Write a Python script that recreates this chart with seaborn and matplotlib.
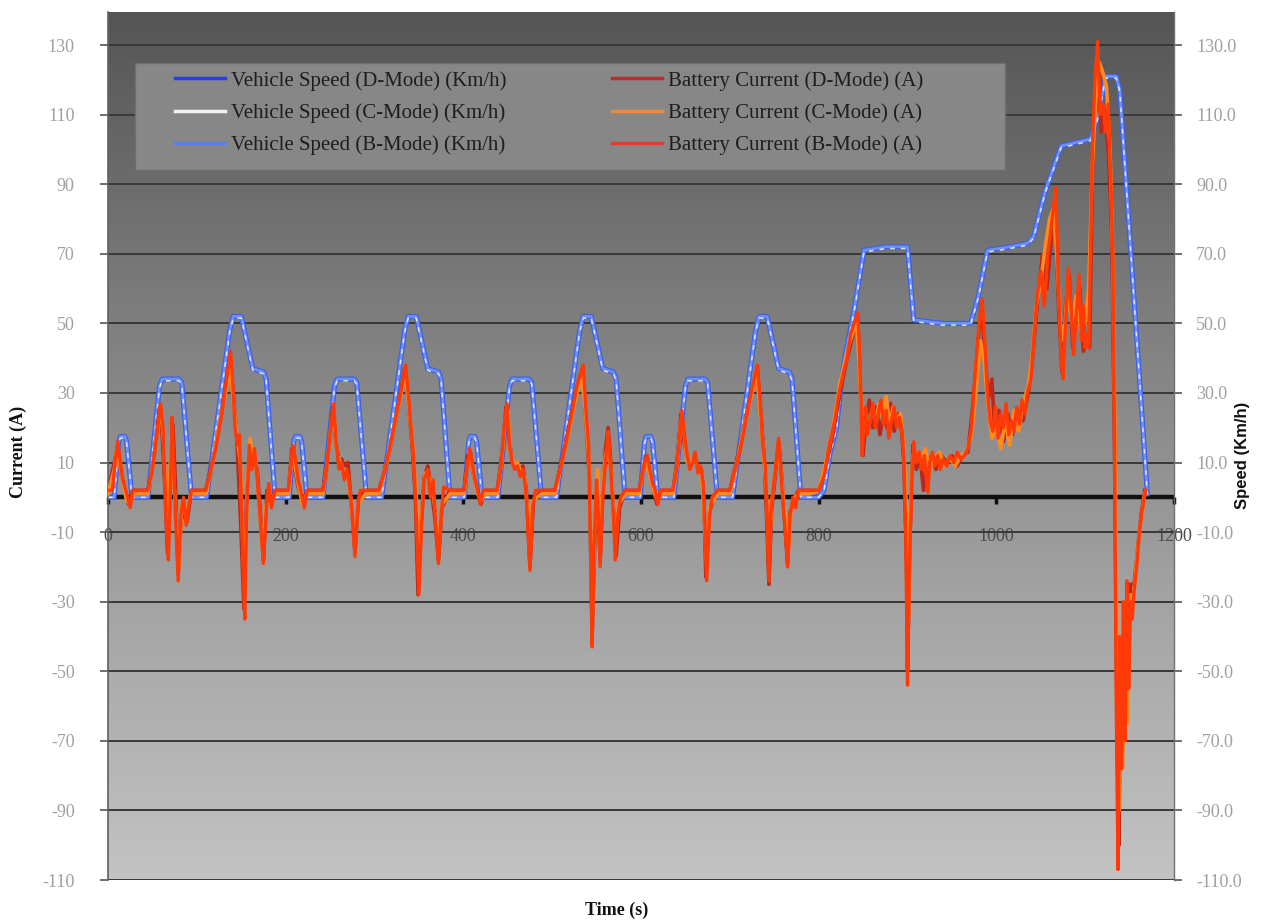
import numpy as np
import matplotlib
matplotlib.use("Agg")
import matplotlib.pyplot as plt
import seaborn as sns
from matplotlib.colors import LinearSegmentedColormap
from matplotlib.lines import Line2D
from matplotlib.patches import Rectangle

plt.rcParams["axes.unicode_minus"] = False

# ---------------- data ----------------
speed_t = [0, 7, 12, 14, 19, 21, 27, 45, 58, 61, 80, 83, 94, 111, 137, 141, 150, 163, 175, 178, 188,
           204, 209, 211, 216, 218, 224, 242, 255, 258, 277, 280, 291, 308, 334, 338, 347, 360, 372, 375, 385,
           401, 406, 408, 413, 415, 421, 439, 452, 455, 474, 477, 488, 505, 531, 535, 544, 557, 569, 572, 582,
           599, 604, 606, 611, 613, 619, 637, 650, 653, 672, 675, 686, 703, 729, 733, 742, 755, 767, 770, 780,
           800, 806, 813, 820, 828, 840, 851, 875, 900, 907, 940, 971, 980, 990, 1015, 1035, 1042, 1055,
           1073, 1090, 1106, 1115, 1123, 1135, 1139, 1170]
speed_D = [0, 0, 16, 17.5, 17.5, 16, 0, 0, 32, 34, 34, 33, 0, 0, 48, 52, 52, 37, 36, 34, 0,
           0, 16, 17.5, 17.5, 16, 0, 0, 32, 34, 34, 33, 0, 0, 48, 52, 52, 37, 36, 34, 0,
           0, 16, 17.5, 17.5, 16, 0, 0, 32, 34, 34, 33, 0, 0, 48, 52, 52, 37, 36, 34, 0,
           0, 16, 17.5, 17.5, 16, 0, 0, 32, 34, 34, 33, 0, 0, 48, 52, 52, 37, 36, 34, 0,
           0, 2, 13, 20, 38, 54, 71, 72, 72, 51, 50, 50, 58, 71, 72, 73, 75, 88,
           101, 102, 103, 110, 121, 121, 117, 1]
speed_C = [0, 0, 15.5, 17, 17, 15.5, 0, 0, 31.5, 33.5, 33.5, 32.5, 0, 0, 47.5, 51.5, 51.5, 36.5, 35.5, 33.5, 0,
           0, 15.5, 17, 17, 15.5, 0, 0, 31.5, 33.5, 33.5, 32.5, 0, 0, 47.5, 51.5, 51.5, 36.5, 35.5, 33.5, 0,
           0, 15.5, 17, 17, 15.5, 0, 0, 31.5, 33.5, 33.5, 32.5, 0, 0, 47.5, 51.5, 51.5, 36.5, 35.5, 33.5, 0,
           0, 15.5, 17, 17, 15.5, 0, 0, 31.5, 33.5, 33.5, 32.5, 0, 0, 47.5, 51.5, 51.5, 36.5, 35.5, 33.5, 0,
           0, 2, 12.5, 19.5, 37.5, 53.5, 70.5, 71.5, 71.5, 50.5, 49.5, 49.5, 57.5, 70.5, 71.5, 72.5, 74.5, 87.5,
           100.5, 101.5, 102.5, 109.5, 120.5, 120.5, 116.5, 1]
speed_B = speed_D

current_B = [
    (0, 2), (5, 2), (8, 10), (11, 16), (13, 12), (16, 6), (19, 3), (22, 0), (25, -3), (28, 2), (45, 2),
    (50, 8), (55, 18), (59, 27), (62, 20), (64, 5), (66, -10), (68, -18), (70, 0), (72, 23), (74, 10),
    (76, -5), (79, -24), (82, -5), (85, 0), (88, -8), (91, -2), (94, 2), (110, 2), (116, 8), (122, 15),
    (128, 24), (133, 33), (138, 42), (140, 35), (143, 20), (146, 15), (148, 18), (150, 0), (152, -20),
    (154, -35), (156, -5), (159, 15), (162, 8), (165, 14), (168, 5), (171, -5), (175, -19), (178, -4),
    (181, 4), (184, -3), (188, 2),
    (203, 2), (206, 9), (208, 15), (211, 11), (214, 5), (217, 2), (221, -3), (224, 2), (242, 2), (246, 8),
    (250, 18), (254, 27), (257, 15), (260, 8), (263, 10), (266, 5), (269, 8), (272, 3), (275, -5),
    (278, -17), (281, -3), (284, 2), (290, 2), (305, 2), (312, 8), (320, 18), (328, 28), (335, 38),
    (338, 30), (341, 20), (344, 12), (347, -5), (350, -28), (353, -8), (356, 5), (360, 8), (363, 0),
    (366, 5), (369, -8), (372, -19), (375, -5), (378, 3), (385, 2),
    (401, 2), (404, 8), (407, 14), (410, 10), (413, 5), (416, 2), (419, -2), (422, 2), (438, 2), (442, 8),
    (446, 20), (449, 27), (452, 15), (455, 10), (458, 8), (461, 9), (464, 6), (467, 8), (470, 3),
    (472, -5), (475, -21), (478, -3), (481, 2), (488, 2), (503, 2), (509, 8), (516, 16), (522, 24),
    (528, 32), (535, 38), (538, 25), (541, 15), (543, -10), (545, -43), (547, -15), (550, 5), (552, -5),
    (554, -20), (557, 0), (560, 10), (563, 19), (566, 8), (569, -5), (571, -18), (574, -5), (577, 0),
    (582, 2),
    (598, 2), (601, 6), (604, 10), (607, 12), (610, 8), (613, 4), (616, 2), (619, -2), (622, 2), (636, 2),
    (640, 8), (643, 16), (646, 25), (649, 18), (652, 12), (655, 8), (658, 10), (661, 13), (664, 7),
    (667, 9), (670, 4), (672, -8), (674, -24), (677, -6), (680, 0), (686, 2), (700, 2), (706, 8),
    (712, 14), (718, 22), (724, 30), (731, 38), (734, 28), (737, 15), (740, 9), (742, -5), (744, -24),
    (746, -5), (749, 3), (752, 10), (755, 17), (758, 5), (761, -5), (763, -12), (765, -20), (768, -5),
    (771, 0), (774, -3), (777, 2),
    (790, 2), (800, 2), (806, 6), (812, 15), (818, 22), (823, 30), (828, 36), (832, 40), (836, 47),
    (840, 50), (844, 53), (846, 42), (848, 25), (849, 12), (851, 20), (853, 26), (855, 18), (858, 22),
    (861, 27), (864, 20), (867, 24), (870, 28), (873, 21), (876, 25), (879, 17), (882, 22), (885, 26),
    (888, 20), (891, 23), (894, 19), (896, 11), (898, -10), (900, -54), (902, -20), (905, 5), (907, 16),
    (910, 10), (913, 13), (916, 8), (919, 12), (921, 6), (923, 1.5), (925, 10), (928, 13), (931, 9),
    (934, 12), (937, 8), (940, 11), (944, 9), (948, 12), (952, 10), (956, 13), (960, 11), (964, 12),
    (968, 14), (972, 20), (976, 35), (980, 48), (984, 57), (987, 45), (990, 30), (993, 22), (996, 19),
    (999, 26), (1002, 17), (1005, 24), (1008, 20), (1011, 27), (1014, 18), (1017, 22), (1020, 19),
    (1023, 26), (1026, 21), (1029, 28), (1032, 24), (1035, 30), (1039, 34), (1042, 45), (1046, 58),
    (1050, 65), (1054, 55), (1058, 70), (1062, 78), (1065, 85), (1067, 89), (1070, 60), (1073, 40),
    (1075, 34), (1078, 50), (1081, 66), (1084, 55), (1087, 41), (1090, 52), (1093, 64), (1096, 45),
    (1098, 55), (1100, 43), (1102, 47), (1104, 43), (1106, 70), (1108, 99), (1111, 120), (1114, 131),
    (1117, 110), (1120, 113), (1123, 105), (1126, 113), (1129, 90), (1131, 70), (1133, 20), (1135, -60),
    (1137, -107), (1139, -40), (1141, -78), (1143, -30), (1145, -70), (1147, -24), (1149, -55),
    (1151, -30), (1153, -35), (1155, -27), (1158, -20), (1161, -10), (1164, -4), (1168, 2)]

current_C = [
    (0, 1), (7, 8), (10, 14), (13, 10), (17, 4), (21, -1), (25, -2), (29, 1), (45, 1), (51, 10), (56, 20),
    (60, 25), (63, 14), (66, -6), (68, -12), (71, 18), (74, 6), (77, -8), (80, -20), (83, -2), (88, -5),
    (93, 1), (110, 1), (118, 10), (126, 22), (133, 31), (137, 38), (141, 28), (145, 18), (149, 10),
    (152, -15), (154, -28), (157, 5), (160, 17), (163, 10), (166, 12), (170, -2), (174, -15), (178, -2),
    (183, -2), (188, 1),
    (203, 1), (207, 12), (210, 10), (214, 4), (219, -2), (224, 1), (242, 1), (247, 10), (251, 20),
    (254, 24), (258, 12), (262, 10), (266, 7), (270, 6), (274, -2), (278, -14), (281, -2), (290, 1),
    (305, 1), (314, 10), (322, 20), (330, 30), (335, 35), (339, 25), (343, 15), (347, 0), (350, -22),
    (353, -5), (357, 7), (361, 6), (365, 3), (369, -5), (372, -15), (376, -2), (385, 1),
    (401, 1), (405, 10), (408, 12), (412, 6), (416, 1), (420, -1), (424, 1), (438, 1), (443, 10),
    (447, 22), (450, 25), (453, 13), (457, 9), (461, 10), (465, 7), (469, 6), (472, -3), (475, -17),
    (478, -1), (488, 1), (503, 1), (510, 9), (518, 18), (526, 28), (533, 35), (537, 26), (541, 12),
    (543, -5), (545, -35), (548, -8), (551, 8), (554, -12), (557, 3), (560, 12), (563, 15), (567, 6),
    (571, -14), (575, -2), (582, 1),
    (598, 1), (603, 9), (606, 11), (610, 6), (614, 2), (619, -1), (623, 1), (636, 1), (641, 10),
    (645, 22), (648, 20), (652, 10), (656, 10), (660, 12), (664, 8), (668, 7), (671, -4), (674, -20),
    (677, -3), (686, 1), (700, 1), (708, 10), (716, 20), (724, 29), (730, 36), (734, 25), (738, 12),
    (741, 3), (744, -18), (747, -2), (751, 8), (755, 14), (759, 3), (763, -8), (766, -16), (769, -3),
    (773, 0), (777, 1),
    (790, 1), (800, 2), (808, 10), (816, 20), (824, 33), (832, 42), (838, 47), (843, 50), (846, 36),
    (849, 18), (852, 24), (856, 20), (860, 25), (864, 22), (868, 27), (872, 23), (876, 29), (880, 21),
    (884, 26), (888, 22), (892, 24), (896, 14), (899, -5), (901, -35), (903, -5), (906, 12), (910, 13),
    (915, 10), (920, 14), (925, 8), (930, 11), (936, 13), (942, 9), (948, 11), (954, 9), (960, 12),
    (966, 13), (972, 18), (977, 30), (982, 45), (986, 40), (990, 28), (995, 17), (1000, 20), (1005, 14),
    (1010, 22), (1015, 15), (1020, 25), (1025, 19), (1030, 27), (1036, 32), (1040, 40), (1045, 55),
    (1050, 62), (1055, 72), (1060, 80), (1064, 83), (1068, 70), (1072, 50), (1076, 45), (1080, 60),
    (1085, 50), (1090, 58), (1095, 48), (1100, 50), (1104, 60), (1108, 95), (1112, 115), (1116, 125),
    (1120, 122), (1124, 118), (1128, 100), (1131, 70), (1134, 10), (1136, -50), (1138, -90), (1140, -60),
    (1142, -78), (1145, -40), (1148, -65), (1151, -28), (1154, -30), (1158, -18), (1162, -8), (1167, 1)]

current_D = [
    (0, 2), (8, 11), (11, 15), (14, 8), (18, 3), (23, -2), (28, 2), (45, 2), (52, 12), (58, 26), (61, 18),
    (64, 3), (67, -16), (70, 2), (73, 21), (76, 3), (79, -22), (83, -4), (89, -7), (94, 2), (110, 2),
    (120, 13), (129, 26), (137, 40), (141, 30), (145, 17), (149, -5), (153, -32), (156, 0), (160, 14),
    (164, 12), (168, 8), (172, -6), (175, -18), (179, 2), (184, -2), (188, 2),
    (203, 2), (207, 14), (210, 9), (214, 3), (220, -2), (224, 2), (242, 2), (248, 13), (253, 26),
    (256, 17), (260, 10), (263, 11), (266, 9), (270, 10), (274, -2), (278, -16), (282, 0), (290, 2),
    (305, 2), (316, 12), (326, 25), (334, 37), (338, 28), (342, 16), (346, 0), (349, -28), (352, -10),
    (356, 6), (360, 9), (364, 2), (368, -6), (372, -18), (376, -3), (385, 2),
    (401, 2), (405, 12), (408, 13), (411, 7), (416, 2), (420, -2), (424, 2), (438, 2), (444, 13),
    (448, 26), (451, 18), (455, 10), (459, 9), (463, 8), (467, 9), (471, 2), (475, -20), (479, -1),
    (488, 2), (503, 2), (512, 12), (521, 23), (529, 33), (534, 37), (538, 22), (542, 5), (545, -40),
    (548, -12), (551, 2), (554, -18), (557, 2), (560, 14), (563, 20), (566, 10), (570, -8), (572, -17),
    (576, -3), (582, 2),
    (598, 2), (602, 8), (606, 12), (609, 8), (613, 3), (618, -2), (622, 2), (636, 2), (641, 11),
    (645, 24), (648, 17), (652, 11), (656, 9), (660, 12), (664, 9), (668, 8), (671, -2), (673, -23),
    (677, -4), (686, 2), (700, 2), (709, 12), (718, 23), (726, 32), (731, 37), (735, 24), (739, 10),
    (742, -10), (744, -25), (747, -4), (751, 6), (755, 16), (759, 4), (762, -8), (765, -19), (768, -4),
    (772, -1), (777, 2),
    (790, 2), (800, 2), (808, 9), (816, 18), (824, 30), (832, 40), (838, 46), (844, 52), (847, 30),
    (850, 12), (853, 22), (857, 28), (861, 20), (865, 26), (869, 18), (873, 24), (877, 20), (881, 27),
    (885, 19), (889, 24), (893, 20), (896, 10), (899, -20), (900, -50), (903, -10), (906, 15), (910, 8),
    (914, 12), (918, 2), (922, 10), (927, 12), (932, 8), (938, 12), (944, 10), (950, 12), (956, 9),
    (962, 12), (968, 13), (973, 25), (978, 40), (983, 56), (987, 42), (991, 28), (995, 34), (998, 20),
    (1003, 25), (1008, 16), (1013, 24), (1018, 18), (1024, 25), (1030, 22), (1036, 30), (1040, 38),
    (1046, 55), (1052, 70), (1057, 60), (1062, 75), (1066, 86), (1070, 55), (1074, 36), (1078, 55),
    (1082, 64), (1086, 43), (1090, 55), (1094, 60), (1098, 42), (1102, 45), (1105, 43), (1108, 90),
    (1111, 118), (1114, 128), (1118, 105), (1122, 110), (1126, 100), (1130, 75), (1133, 15), (1136, -70),
    (1138, -100), (1140, -50), (1142, -72), (1145, -35), (1148, -60), (1151, -25), (1155, -25),
    (1159, -15), (1163, -5), (1167, 2)]

x_ticks = [0, 200, 400, 600, 800, 1000, 1200]
y_ticks = [-110, -90, -70, -50, -30, -10, 10, 30, 50, 70, 90, 110, 130]

speed_labels = ["Vehicle Speed (D-Mode) (Km/h)", "Vehicle Speed (C-Mode) (Km/h)",
                "Vehicle Speed (B-Mode) (Km/h)"]
current_labels = ["Battery Current (D-Mode) (A)", "Battery Current (C-Mode) (A)",
                  "Battery Current (B-Mode) (A)"]

# ---------------- styling ----------------
SERIF = "Liberation Serif"
W, H = 1261, 922
fig = plt.figure(figsize=(W / 100, H / 100), dpi=100)
fig.patch.set_facecolor("white")
L, R, T, B = 108, 1174, 12, 880
ax = fig.add_axes([L / W, 1 - B / H, (R - L) / W, (B - T) / H])
ax.set_xlim(0, 1200)
ax.set_ylim(-110, 139.5)

# gradient background
grad = np.linspace(0, 1, 256).reshape(-1, 1)
cmap = LinearSegmentedColormap.from_list("bg", ["#c3c3c3", "#a2a2a2", "#7c7c7c", "#555555"])
ax.imshow(grad, extent=[0, 1200, -110, 139.5], origin="lower", aspect="auto", cmap=cmap, zorder=0)

ax.set_axisbelow(True)
ax.set_yticks(y_ticks)
ax.yaxis.grid(True, color="#383838", linewidth=1.4)
ax.xaxis.grid(False)
ax.axhline(0, color="#111111", linewidth=3.2, zorder=1.8)

# speed series
sns.lineplot(x=speed_t, y=speed_D, ax=ax, color="#3a5eea", linewidth=3.6, sort=False,
             estimator=None, legend=False, zorder=2.1)
sns.lineplot(x=speed_t, y=speed_B, ax=ax, color="#6e8ff4", linewidth=2.0, sort=False,
             estimator=None, legend=False, zorder=2.2)
sns.lineplot(x=speed_t, y=speed_C, ax=ax, color="#eef0f8", linewidth=1.1, sort=False,
             estimator=None, legend=False, zorder=2.3, linestyle=(0, (3, 4)), alpha=0.9)

# current series
for data, col, lw, z in [(current_D, "#b8281c", 2.6, 2.5), (current_C, "#ff8a1e", 2.6, 2.6),
                         (current_B, "#ff3a06", 2.4, 2.7)]:
    tt = [p[0] for p in data]
    vv = [p[1] for p in data]
    sns.lineplot(x=tt, y=vv, ax=ax, color=col, linewidth=lw, sort=False, estimator=None,
                 legend=False, zorder=z)

# axes / ticks
for s in ["top", "right"]:
    ax.spines[s].set_visible(False)
ax.spines["left"].set_color("#606060")
ax.spines["left"].set_linewidth(1.2)
ax.spines["bottom"].set_position(("data", 0))
ax.spines["bottom"].set_color("none")
ax.set_xticks(x_ticks)
ax.set_xticklabels([str(v) for v in x_ticks])
ax.tick_params(axis="x", direction="out", length=5, width=2.5, color="#111111", pad=17,
               labelsize=13, labelcolor="#4a4a4a")
ax.tick_params(axis="y", direction="out", length=6, width=1.2, color="#555555", pad=18,
               labelsize=13, labelcolor="#a0a0a0")
for lab in ax.get_xticklabels() + ax.get_yticklabels():
    lab.set_fontfamily(SERIF)
ax.set_xlabel("")
ax.set_ylabel("")

ax2 = ax.twinx()
ax2.set_ylim(-110, 139.5)
ax2.set_yticks(y_ticks)
ax2.set_yticklabels([f"{v:.1f}" for v in y_ticks])
for s in ["top", "left", "bottom"]:
    ax2.spines[s].set_visible(False)
ax2.spines["right"].set_color("#707070")
ax2.spines["right"].set_linewidth(1.0)
ax2.tick_params(axis="y", direction="out", length=6, width=1.2, color="#555555", pad=10,
                labelsize=13, labelcolor="#a0a0a0")
for lab in ax2.get_yticklabels():
    lab.set_fontfamily(SERIF)

# legend box + two legend columns
box_x0, box_x1, box_y0, box_y1 = 135, 1005, 63, 170
ax2.add_patch(Rectangle(((box_x0 - L) / (R - L), (B - box_y1) / (B - T)),
                        (box_x1 - box_x0) / (R - L), (box_y1 - box_y0) / (B - T),
                        transform=ax2.transAxes, facecolor="#878787", edgecolor="#6f6f6f",
                        linewidth=1.0, zorder=3))
sp_h = [Line2D([], [], color="#2a3fe0", lw=2.5), Line2D([], [], color="#f2f2f2", lw=2.5),
        Line2D([], [], color="#5a7ff0", lw=2.5)]
cu_h = [Line2D([], [], color="#b03030", lw=2.5), Line2D([], [], color="#f08a3a", lw=2.5),
        Line2D([], [], color="#e83a30", lw=2.5)]
leg_kw = dict(frameon=False, loc="upper left", borderpad=0, borderaxespad=0, handlelength=2.4,
              handletextpad=0.3, labelspacing=0.6, prop={"family": SERIF, "size": 15},
              labelcolor="#1e1e1e")
leg1 = ax2.legend(sp_h, speed_labels, bbox_to_anchor=((175 - L) / (R - L), (B - 71) / (B - T)),
                  **leg_kw)
leg1.set_zorder(6)
ax2.add_artist(leg1)
leg2 = ax2.legend(cu_h, current_labels, bbox_to_anchor=((612 - L) / (R - L), (B - 71) / (B - T)),
                  **leg_kw)
leg2.set_zorder(6)

# axis titles
fig.text(617 / W, 1 - 910 / H, "Time (s)", ha="center", va="center", fontsize=13,
         fontweight="bold", family=SERIF, color="#111111")
fig.text(18 / W, 1 - 452 / H, "Current (A)", ha="center", va="center", rotation=90,
         fontsize=13, fontweight="bold", family=SERIF, color="#111111")
fig.text(1243 / W, 1 - 455 / H, "Speed (Km/h)", ha="center", va="center", rotation=90,
         fontsize=12, fontweight="bold", family="Liberation Sans", color="#111111")

fig.savefig("out.png", dpi=100)
